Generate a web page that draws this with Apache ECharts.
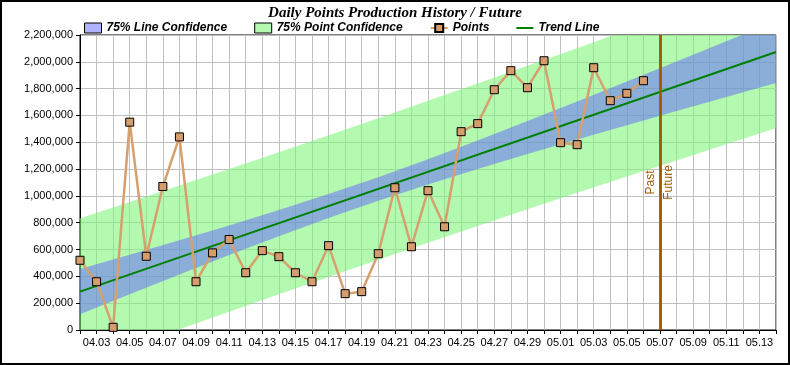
<!DOCTYPE html>
<html>
<head>
<meta charset="utf-8">
<script src="https://cdn.jsdelivr.net/npm/echarts@6/dist/echarts.min.js"></script>
<style>
html,body{margin:0;padding:0;background:#fff;}
#wrap{position:relative;width:790px;height:365px;}
#chart{width:790px;height:365px;}
#frame{position:absolute;left:0;top:0;width:790px;height:365px;box-sizing:border-box;border:2px solid #000;pointer-events:none;}
</style>
</head>
<body>
<div id="wrap"><div id="chart"></div><div id="frame"></div></div>
<script>
// ---- data ----
const categories = ['04.02','04.03','04.04','04.05','04.06','04.07','04.08','04.09','04.10','04.11','04.12','04.13','04.14','04.15','04.16','04.17','04.18','04.19','04.20','04.21','04.22','04.23','04.24','04.25','04.26','04.27','04.28','04.29','04.30','05.01','05.02','05.03','05.04','05.05','05.06','05.07','05.08','05.09','05.10','05.11','05.12','05.13','05.14'];
const points = [520000,360000,20000,1550000,550000,1070000,1440000,360000,575000,675000,427000,592000,547000,427000,360000,629000,271000,286000,569000,1061000,621000,1039000,770000,1479000,1539000,1792000,1934000,1807000,2008000,1397000,1382000,1956000,1710000,1765000,1859000];
const trendDays = [0, 42];
const trendValues = [286000, 2073000];
const bandDays = [0,3,6,9,12,15,18,21,24,27,30,33,36,39,42];
const lineConfLower = [118000,267000,414000,559000,700000,835000,963000,1085000,1200000,1312000,1420000,1527000,1633000,1738000,1842000];
const lineConfUpper = [454000,561000,669000,779000,894000,1014000,1140000,1274000,1414000,1558000,1705000,1853000,2003000,2153000,2304000];
const pointConfLower = [-261000,-127000,6000,137000,267000,396000,524000,651000,776000,900000,1023000,1145000,1265000,1385000,1504000];
const pointConfUpper = [833000,955000,1077000,1201000,1326000,1452000,1580000,1709000,1839000,1970000,2102000,2236000,2370000,2506000,2643000];
const dividerDate = '05.07';
const yTicks = [0,200000,400000,600000,800000,1000000,1200000,1400000,1600000,1800000,2000000,2200000];

// ---- chart ----
const GREEN = 'rgba(126,245,121,0.59)';
const BLUE = 'rgba(100,100,255,0.5)';
function band(lower, upper, color) {
  return function (params, api) {
    const pts = [];
    for (let i = 0; i < bandDays.length; i++) pts.push(api.coord([bandDays[i], upper[i]]));
    for (let i = bandDays.length - 1; i >= 0; i--) pts.push(api.coord([bandDays[i], lower[i]]));
    return { type: 'polygon', shape: { points: pts }, style: { fill: color } };
  };
}
const font = 'Liberation Sans, Arial, sans-serif';
const lineIcon = 'path://M0,0L0.05,0L0.05,0.05Z M0,4L18,4L18,6L0,6Z M0,10L0.05,10L0.05,9.95Z';
const chart = echarts.init(document.getElementById('chart'), null, { renderer: 'canvas' });
chart.setOption({
  animation: false,
  backgroundColor: '#fff',
  title: {
    text: 'Daily Points Production History / Future',
    left: 'center', top: 1,
    textStyle: { fontFamily: 'Liberation Serif, Times New Roman, serif', fontStyle: 'italic', fontWeight: 'bold', fontSize: 15, color: '#000' }
  },
  legend: {
    left: 84, top: 22, padding: 0,
    itemWidth: 17, itemHeight: 10, itemGap: 27,
    textStyle: { fontFamily: font, fontStyle: 'italic', fontWeight: 'bold', fontSize: 12, color: '#000' },
    data: [
      { name: '75% Line Confidence', icon: 'rect', itemStyle: { borderColor: '#000', borderWidth: 1 } },
      { name: '75% Point Confidence', icon: 'rect', itemStyle: { borderColor: '#000', borderWidth: 1 } },
      { name: 'Points' },
      { name: 'Trend Line', icon: lineIcon }
    ]
  },
  grid: { left: 80, right: 14, top: 35, bottom: 35, show: true, borderColor: '#000', borderWidth: 1, backgroundColor: 'transparent' },
  xAxis: {
    type: 'category', data: categories, boundaryGap: false,
    axisLine: { lineStyle: { color: '#000', width: 1 } },
    axisTick: { show: true, interval: 0, length: 4, lineStyle: { color: '#000' } },
    axisLabel: { interval: function (i) { return i % 2 === 1; }, color: '#000', fontFamily: font, fontSize: 11, margin: 7 },
    splitLine: { show: true, interval: 0, lineStyle: { color: '#c0c0c0', width: 1 } }
  },
  yAxis: {
    type: 'value', min: yTicks[0], max: yTicks[yTicks.length - 1], interval: 200000,
    axisLine: { show: true, lineStyle: { color: '#000', width: 1 } },
    axisTick: { show: true, length: 4, lineStyle: { color: '#000' } },
    axisLabel: { color: '#000', fontFamily: font, fontSize: 11, margin: 7, formatter: function (v) { return v.toLocaleString('en-US'); } },
    splitLine: { show: true, lineStyle: { color: '#c0c0c0', width: 1 } }
  },
  series: [
    { name: '75% Point Confidence', type: 'custom', clip: true, z: 1, silent: true, itemStyle: { color: GREEN }, renderItem: band(pointConfLower, pointConfUpper, GREEN), data: [[0, 0]] },
    { name: '75% Line Confidence', type: 'custom', clip: true, z: 1, silent: true, itemStyle: { color: BLUE }, renderItem: band(lineConfLower, lineConfUpper, BLUE), data: [[0, 0]] },
    { name: 'Trend Line', type: 'line', z: 3, clip: true, symbol: 'none', lineStyle: { color: '#008000', width: 2 }, itemStyle: { color: '#008000' },
      data: trendDays.map(function (d, i) { return [d, trendValues[i]]; }) },
    { name: 'Points', type: 'line', z: 4, symbol: 'rect', symbolSize: 8,
      lineStyle: { color: '#d6a06e', width: 2.5 },
      itemStyle: { color: '#d69d6c', borderColor: '#000', borderWidth: 1 },
      data: points,
      markLine: {
        silent: true, symbol: 'none', animation: false,
        lineStyle: { color: '#a35a00', width: 2.5, type: 'solid' },
        label: { color: '#a35a00', fontFamily: font, fontSize: 12, distance: 3 },
        data: [
          { xAxis: dividerDate, label: { formatter: 'Past', position: 'insideMiddleTop' } },
          { xAxis: dividerDate, label: { formatter: 'Future', position: 'insideMiddleBottom' } }
        ]
      }
    }
  ]
});
</script>
</body>
</html>
